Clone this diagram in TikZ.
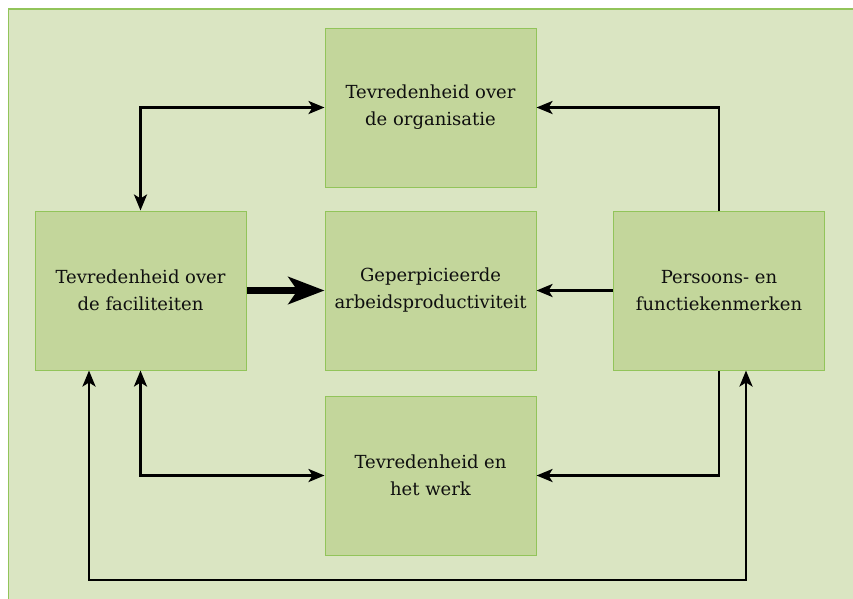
\documentclass[tikz,border=0pt]{standalone}
\usepackage{fontspec}
\setmainfont{DejaVu Serif}
\usetikzlibrary{arrows.meta}
\definecolor{bgfill}{RGB}{218,229,194}
\definecolor{boxfill}{RGB}{195,214,155}
\definecolor{boxline}{RGB}{146,196,90}
\definecolor{txt}{RGB}{15,15,15}
\begin{document}
\begin{tikzpicture}[x=1pt,y=-1pt,
  box/.style={draw=boxline, line width=1pt, fill=boxfill, minimum width=211pt, minimum height=159pt,
    align=center, text=txt, font=\fontsize{18pt}{27pt}\selectfont, inner sep=0pt},
  arr/.style={line width=2.8pt, draw=black, line cap=butt, line join=miter,
    arrows={-Stealth[length=16pt,width=13pt,inset=4pt]}},
  biarr/.style={arr, arrows={Stealth[length=16pt,width=13pt,inset=4pt]-Stealth[length=16pt,width=13pt,inset=4pt]}},
  thick arr/.style={line width=7.5pt, draw=black, arrows={-Stealth[length=36pt,width=27pt,inset=9pt]}}]
\useasboundingbox (0,0) rectangle (853,598);
\clip (0,0) rectangle (853,598);
\draw[fill=bgfill, draw=boxline, line width=1.2pt] (8.5,9) rectangle (870,620);
\node[box] (top) at (430.5,107.5) {Tevredenheid over\\de organisatie};
\node[box] (left) at (140.5,290.5) {Tevredenheid over\\de faciliteiten};
\node[box] (center) at (430.5,290.5) {Geperpicieerde\\arbeidsproductiviteit};
\node[box] (right) at (719,290.5) {Persoons- en\\functiekenmerken};
\node[box] (bottom) at (430.5,475.5) {Tevredenheid en\\het werk};
\coordinate (l1) at ([xshift=-51.5pt]left.south);
\coordinate (r1) at ([xshift=27pt]right.south);
\coordinate (low) at (0,580);
\draw[biarr] (left.north) |- (top.west);
\draw[arr] (right.north) |- (top.east);
\draw[thick arr] (left.east) -- (center.west);
\draw[arr] (right.west) -- (center.east);
\draw[biarr] (left.south) |- (bottom.west);
\draw[arr] (right.south) |- (bottom.east);
\draw[biarr] (l1) -- (l1 |- low) -| (r1);
\end{tikzpicture}
\end{document}
